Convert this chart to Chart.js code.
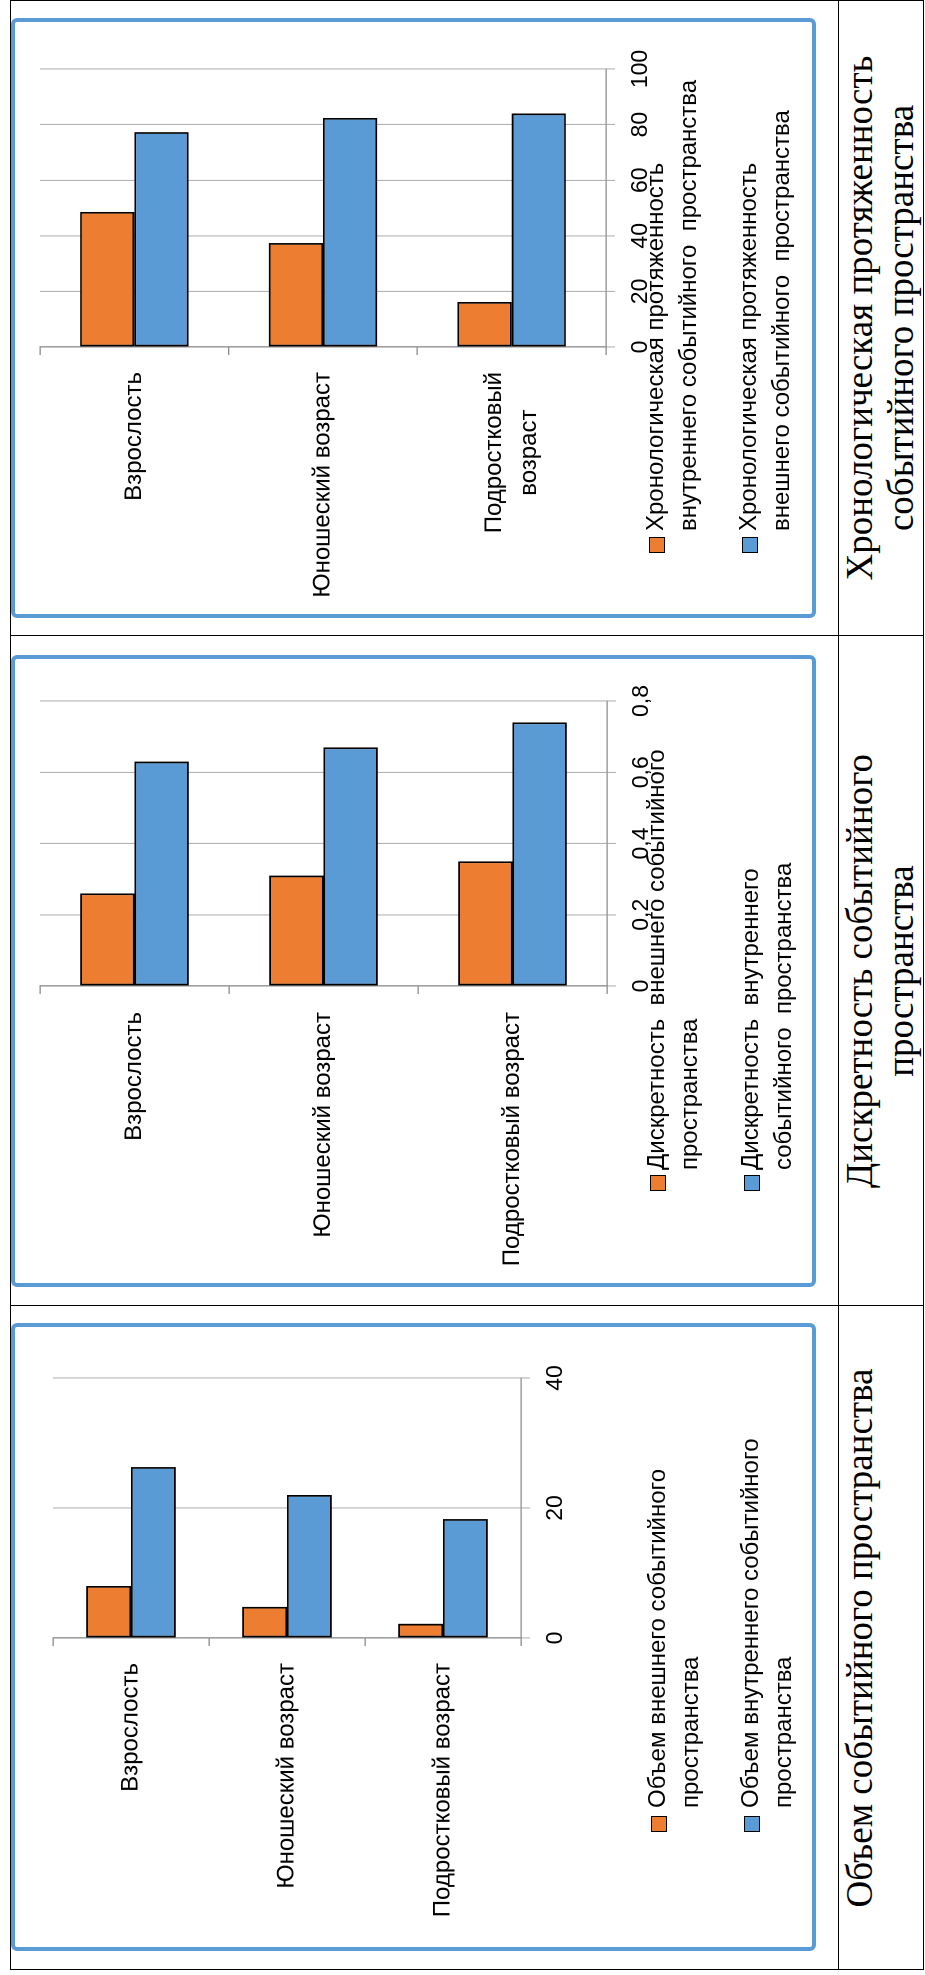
<!DOCTYPE html>
<html lang="ru">
<head>
<meta charset="utf-8">
<title>Событийное пространство</title>
<script src="https://cdn.jsdelivr.net/npm/chart.js@4.4.1/dist/chart.umd.min.js"></script>
<style>
  html, body { margin: 0; padding: 0; background: #fff; }
  body { width: 925px; height: 1975px; overflow: hidden; position: relative; }
  /* the table is laid out unrotated (1975 x 925) and turned a quarter turn left */
  #sheet { position: absolute; left: 0; top: 0; width: 1975px; height: 925px;
           transform-origin: 0 0; transform: translate(0, 1975px) rotate(-90deg); }
  .line { position: absolute; background: #000; }
  .frame { position: absolute; box-sizing: border-box; border: 4px solid #5B9BD5; border-radius: 6px; }
  canvas { position: absolute; }
  .sq { position: absolute; width: 16px; height: 16px; box-sizing: border-box; border: 1.5px solid #000; }
  .leg { position: absolute; font: 24px "Liberation Sans", Arial, sans-serif; line-height: 33px;
         white-space: pre; color: #000; }
  .cell { position: absolute; font: 37px "Liberation Serif", "Times New Roman", serif; line-height: 41px;
          text-align: center; white-space: nowrap; color: #000; }
</style>
</head>
<body>
<div id="sheet"></div>
<script>
// categories, top to bottom
const categories = ['Взрослость', 'Юношеский возраст', 'Подростковый возраст'];
const categoriesWrapped = [['Взрослость'], ['Юношеский возраст'], ['Подростковый', 'возраст']];

// Объем событийного пространства
const volumeOuter = [8.0, 4.8, 2.2];
const volumeInner = [26.3, 22.0, 18.3];
const volumeTicks = [0, 20, 40];
const volumeNames = [['Объем внешнего событийного', 'пространства'],
                     ['Объем внутреннего событийного', 'пространства']];

// Дискретность событийного пространства
const discreteOuter = [0.26, 0.31, 0.35];
const discreteInner = [0.63, 0.67, 0.74];
const discreteTicks = [0, 0.2, 0.4, 0.6, 0.8];
const discreteNames = [['Дискретность  внешнего событийного', 'пространства'],
                       ['Дискретность  внутреннего', 'событийного  пространства']];

// Хронологическая протяженность событийного пространства
const chronoInner = [48.6, 37.4, 16.2];
const chronoOuter = [77.3, 82.4, 84.0];
const chronoTicks = [0, 20, 40, 60, 80, 100];
const chronoNames = [['Хронологическая протяженность', 'внутреннего событийного  пространства'],
                     ['Хронологическая протяженность', 'внешнего событийного  пространства']];

const rowLabels = [['Объем событийного пространства'],
                   ['Дискретность событийного', 'пространства'],
                   ['Хронологическая протяженность', 'событийного пространства']];

const ORANGE = '#ED7D31';
const BLUE = '#5B9BD5';

Chart.defaults.font.family = '"Liberation Sans", Arial, sans-serif';

const sheet = document.getElementById('sheet');

function box(cls, u, v, w, h) {
  const d = document.createElement('div');
  d.className = cls;
  d.style.left = u + 'px';
  d.style.top = v + 'px';
  if (w != null) d.style.width = w + 'px';
  if (h != null) d.style.height = h + 'px';
  sheet.appendChild(d);
  return d;
}

// table rules
box('line', 5, 9.5, 1970, 1.5);
box('line', 5, 837.5, 1970, 1.5);
box('line', 5, 922.5, 1970, 1.5);
[4.5, 668.5, 1338.5, 1973.5].forEach(u => box('line', u, 9.5, 1.5, 914.5));

// row labels
const cells = [[5, 669], [669, 1339], [1339, 1975]];
cells.forEach(([a, b], i) => {
  const d = box('cell', a, 839, b - a, null);
  d.innerHTML = rowLabels[i].join('<br>');
});

// category labels drawn next to the category axis, lines centred in a right-aligned block
const categoryLabels = {
  id: 'categoryLabels',
  afterDraw(chart, args, opts) {
    const { ctx, chartArea } = chart;
    const y = chart.scales.y;
    ctx.save();
    ctx.font = '24px "Liberation Sans", Arial, sans-serif';
    ctx.fillStyle = '#000';
    ctx.textAlign = 'center';
    ctx.textBaseline = 'middle';
    opts.lines.forEach((lines, i) => {
      const w = Math.max(...lines.map(l => ctx.measureText(l).width));
      const cx = chartArea.left - opts.gap - w / 2;
      const cy = y.getPixelForValue(i);
      lines.forEach((line, k) => ctx.fillText(line, cx, cy + (k - (lines.length - 1) / 2) * 35));
    });
    ctx.restore();
  }
};

const panels = [
  { frame: [24, 11, 628, 805], plot: [337, 597, 53, 521], gap: 25,
    legend: { sqU: 143, textU: 167, tops: [640, 733] },
    lines: categories.map(c => [c]), ticks: volumeTicks,
    names: volumeNames, series: [volumeOuter, volumeInner] },
  { frame: [688, 11, 632, 805], plot: [989, 1274, 40, 607], gap: 26,
    legend: { sqU: 784, textU: 805, tops: [639, 733] },
    lines: categories.map(c => [c]), ticks: discreteTicks,
    names: discreteNames, series: [discreteOuter, discreteInner] },
  { frame: [1357, 11, 600, 805], plot: [1628, 1906, 40, 606], gap: 25,
    legend: { sqU: 1422, textU: 1444, tops: [638, 731] },
    lines: categoriesWrapped, ticks: chronoTicks,
    names: chronoNames, series: [chronoInner, chronoOuter] }
];

panels.forEach(p => {
  const [fu, fv, fw, fh] = p.frame;
  box('frame', fu, fv, fw, fh);

  const cu = fu + 4, cv = fv + 4, cw = fw - 8, ch = fh - 8;
  const canvas = document.createElement('canvas');
  canvas.width = cw;
  canvas.height = ch;
  canvas.style.left = cu + 'px';
  canvas.style.top = cv + 'px';
  canvas.style.width = cw + 'px';
  canvas.style.height = ch + 'px';
  sheet.appendChild(canvas);

  const [u0, u1, v0, v1] = p.plot;
  const yWidth = u0 - cu;
  const xHeight = cv + ch - v1;
  const colors = [ORANGE, BLUE];

  new Chart(canvas, {
    type: 'bar',
    data: {
      labels: categories,
      datasets: p.series.map((data, i) => ({
        label: p.names[i].join(' '),
        data: data,
        backgroundColor: colors[i],
        borderColor: '#000',
        borderWidth: 1.8,
        borderSkipped: false,
        categoryPercentage: 0.575,
        barPercentage: 1
      }))
    },
    options: {
      indexAxis: 'y',
      responsive: false,
      animation: false,
      devicePixelRatio: 2,
      layout: { padding: { left: 0, top: v0 - cv, right: cu + cw - u1, bottom: 0 } },
      plugins: {
        legend: { display: false },
        tooltip: { enabled: false },
        categoryLabels: { lines: p.lines, gap: p.gap }
      },
      scales: {
        y: {
          grid: { offset: true, drawOnChartArea: false, tickLength: 8, color: '#8c8c8c', lineWidth: 1.3 },
          border: { color: '#8c8c8c', width: 1.3 },
          ticks: { display: false },
          afterFit: s => { s.width = yWidth; }
        },
        x: {
          min: p.ticks[0],
          max: p.ticks[p.ticks.length - 1],
          grid: { color: '#b3b3b3', lineWidth: 1.1, tickLength: 9 },
          border: { color: '#8c8c8c', width: 1.3 },
          ticks: {
            color: '#000',
            padding: 12,
            font: { size: 23 },
            callback: v => String(v).replace('.', ',')
          },
          afterBuildTicks: s => { s.ticks = p.ticks.map(value => ({ value })); },
          afterFit: s => { s.height = xHeight; }
        }
      }
    },
    plugins: [categoryLabels]
  });

  // legend
  p.names.forEach((lines, i) => {
    const top = p.legend.tops[i];
    const sq = box('sq', p.legend.sqU, top + 11, null, null);
    sq.style.background = colors[i];
    const t = box('leg', p.legend.textU, top, null, null);
    t.textContent = lines.join('\n');
  });
});
</script>
</body>
</html>
